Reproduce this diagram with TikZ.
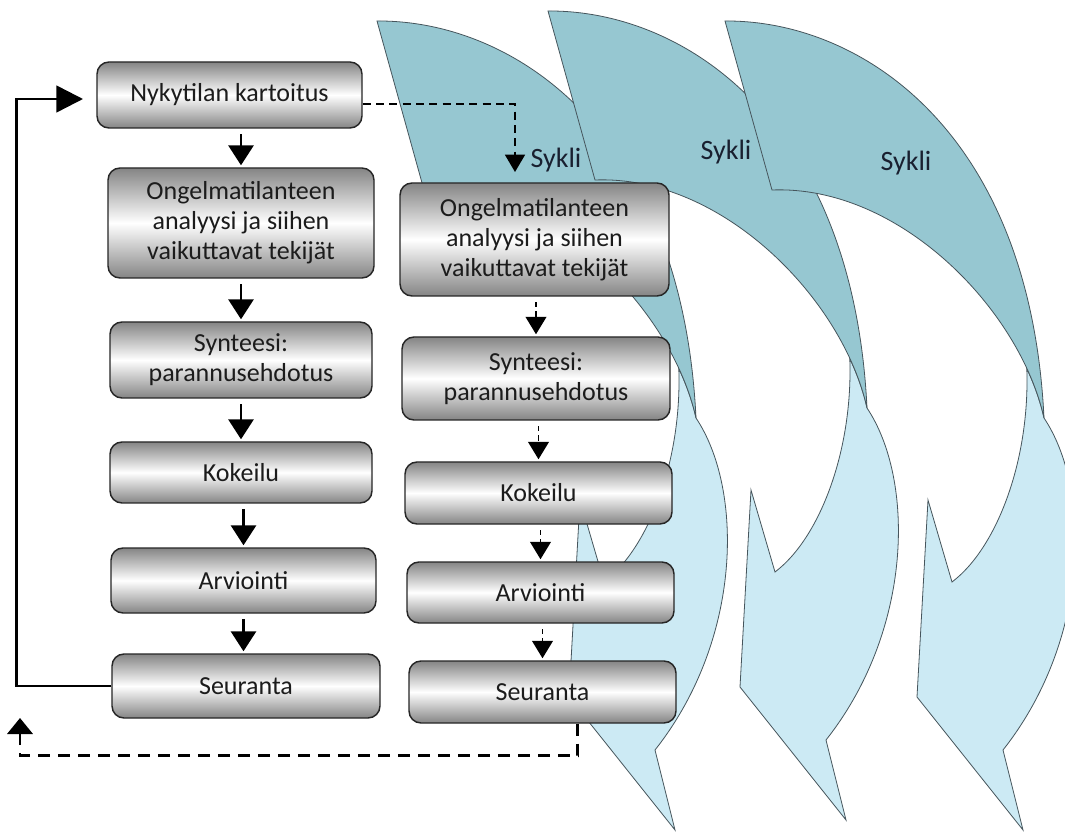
\documentclass[tikz,border=0pt]{standalone}
\usepackage{fontspec}
\setmainfont{Carlito}
\usetikzlibrary{arrows.meta,calc}
\definecolor{darkband}{RGB}{150,199,209}
\definecolor{lightband}{RGB}{204,234,244}
\definecolor{bandline}{RGB}{70,85,92}
\definecolor{txt}{RGB}{28,28,28}
\definecolor{syktxt}{RGB}{25,32,48}
\newcommand{\sykliband}[2]{%
\begin{scope}[shift={(#1,#2)}]
 \filldraw[lightpart] (1026.8,368.7) .. controls (1030,460) and (997,548) .. (952,582)
   -- (928,500) -- (917,697) -- (1023,830) -- (1003,750)
   .. controls (1090,640) and (1092,490) .. (1044,418)
   .. controls (1040.4,401.8) and (1034.6,385.2) .. (1026.8,368.7) -- cycle;
 \filldraw[darkpart] (725,21) .. controls (860,20) and (1030,130) .. (1044,418)
   .. controls (1020,310) and (900,185) .. (772,190) -- cycle;
\end{scope}}
\tikzset{
 lightpart/.style={fill=lightband, draw=bandline, line width=0.6pt, line join=miter},
 darkpart/.style={fill=darkband, draw=bandline, line width=0.6pt, line join=miter},
 box/.style={draw=black!85, line width=1.1pt, rounded corners=9pt, top color=black!48,
   bottom color=black!48, middle color=white, text=txt, align=center,
   font=\fontsize{19.5}{22.5}\selectfont, inner sep=0pt},
 syk/.style={text=syktxt, font=\fontsize{21}{24}\selectfont, inner sep=0pt},
 solidarrow/.style={line width=1.6pt, -{Triangle[width=19pt,length=15pt]}, shorten <=4pt, shorten >=1.5pt},
 dasharrow/.style={line width=1.2pt, dash pattern=on 4pt off 3pt, -{Triangle[width=15.5pt,length=13pt]}, shorten <=4pt, shorten >=1.5pt},
 topdash/.style={line width=1.2pt, dash pattern=on 6pt off 4pt, -{Triangle[width=15pt,length=13pt]}},
 botdash/.style={line width=2pt, dash pattern=on 9pt off 6pt, -{Triangle[width=19pt,length=12pt]}},
 looparrow/.style={line width=1.9pt, -{Triangle[width=20pt,length=20pt]}},
}
\begin{document}
\begin{tikzpicture}[x=0.75pt,y=-0.75pt]
\useasboundingbox (0,0) rectangle (1065,834);
\fill[white] (0,0) rectangle (1065,834);
\begin{scope}
 \clip (0,0) rectangle (1065,834);
 \sykliband{-348}{0}
 \sykliband{-177}{-10}
 \sykliband{0}{0}
\end{scope}
\node[syk] (sy1) at (556,160) {Sykli};
\node[syk] (sy2) at (726,152) {Sykli};
\node[syk] (sy3) at (906,163) {Sykli};
% column 1
\node[box, minimum width=198.75pt, minimum height=49.5pt] (n1) at (229.5,95) {Nykytilan kartoitus};
\node[box, minimum width=199.5pt, minimum height=82.5pt] (a1) at (241,223) {Ongelmatilanteen\\analyysi ja siihen\\vaikuttavat tekijät};
\node[box, minimum width=196.5pt, minimum height=57pt] (s1) at (241,360) {Synteesi:\\parannusehdotus};
\node[box, minimum width=196.5pt, minimum height=45.75pt] (k1) at (241,472.5) {Kokeilu};
\node[box, minimum width=198.75pt, minimum height=48.75pt] (r1) at (243.5,580.5) {Arviointi};
\node[box, minimum width=201pt, minimum height=48pt] (e1) at (246,686) {Seuranta};
% column 2
\node[box, minimum width=201.75pt, minimum height=84.75pt] (a2) at (534.5,239.5) {Ongelmatilanteen\\analyysi ja siihen\\vaikuttavat tekijät};
\node[box, minimum width=201pt, minimum height=62.25pt] (s2) at (536,378.5) {Synteesi:\\parannusehdotus};
\node[box, minimum width=200.25pt, minimum height=46.5pt] (k2) at (538.5,493) {Kokeilu};
\node[box, minimum width=200.25pt, minimum height=45.75pt] (r2) at (540.5,592.5) {Arviointi};
\node[box, minimum width=200.25pt, minimum height=46.5pt] (e2) at (542.5,692) {Seuranta};
% column 1 arrows
\draw[solidarrow] (n1.south -| a1.north) -- (a1.north);
\draw[solidarrow] (a1.south) -- (s1.north);
\draw[solidarrow] (s1.south) -- (k1.north);
\draw[solidarrow] (k1.south -| r1.north) -- (r1.north);
\draw[solidarrow] (r1.south) -- (r1.south |- e1.north);
% column 2 arrows
\draw[dasharrow] (a2.south -| s2.north) -- (s2.north);
\draw[dasharrow] (s2.south -| k2.north) -- (k2.north);
\draw[dasharrow] (k2.south -| r2.north) -- (r2.north);
\draw[dasharrow] (r2.south -| e2.north) -- (e2.north);
% loops
\coordinate (topend) at (515,172);
\draw[topdash] ($(n1.east)+(0,9)$) -| (topend);
\coordinate (loopend) at (83,99);
\draw[looparrow] (e1.west) -- ++(-95,0) |- (loopend);
\coordinate (botend) at (20,718);
\draw[botdash] ($(e2.south)+(35,0)$) -- ++(0,32) -| (botend);
\end{tikzpicture}
\end{document}
